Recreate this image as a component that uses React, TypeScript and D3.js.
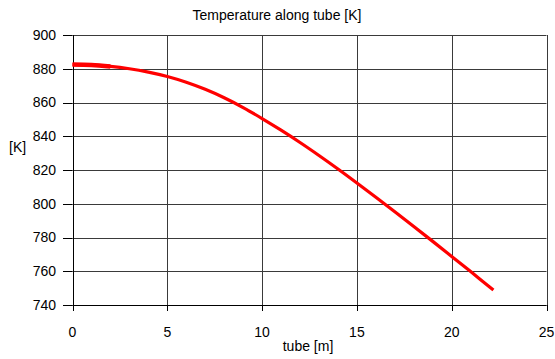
import React from 'react';
import * as d3 from 'd3';

const tubeM = [0, 1, 2, 3, 4, 5, 6, 7, 8, 9, 10, 11, 12, 13, 14, 15, 16, 17, 18, 19, 20, 21, 22, 22.2];
const tempK = [882.5, 882.2, 881.4, 880.0, 878.0, 875.4, 872.0, 867.8, 862.8, 857.0, 850.5, 843.6, 836.3, 828.6, 820.6, 812.3, 803.8, 795.2, 786.5, 777.7, 768.8, 759.8, 750.7, 748.9];
const xTicks = [0, 5, 10, 15, 20, 25];
const yTicks = [740, 760, 780, 800, 820, 840, 860, 880, 900];

const W = 555;
const H = 359;
const FONT = 'Liberation Sans, Arial, sans-serif';
const FS = 14;

function App() {
  const x = d3.scaleLinear().domain([0, 25]).range([72.5, 546.5]);
  const y = d3.scaleLinear().domain([740, 900]).range([305, 35]);
  const px = (v: number) => Math.round(v) + 0.5;

  const line = d3.line<number>()
    .x((d, i) => x(tubeM[i]))
    .y(d => y(d))
    .curve(d3.curveMonotoneX);

  // the first few metres are drawn a bit heavier in the original
  const head = tempK.slice(0, 3);

  return (
    <div style={{ position: 'absolute', left: 0, top: 0 }}>
      <svg width={W} height={H} style={{ display: 'block', background: '#fff' }}>
        <text x={277} y={20} textAnchor="middle" fontFamily={FONT} fontSize={FS} fill="#000">
          Temperature along tube [K]
        </text>

        {/* grid */}
        {yTicks.map(t => (
          <line key={'gy' + t} x1={x(0)} x2={x(25)} y1={px(y(t))} y2={px(y(t))}
            stroke="#3a3a3a" strokeWidth={1} />
        ))}
        {xTicks.map(t => (
          <line key={'gx' + t} x1={px(x(t))} x2={px(x(t))} y1={y(900)} y2={y(740)}
            stroke="#3a3a3a" strokeWidth={1} />
        ))}

        {/* y axis */}
        {yTicks.map(t => (
          <g key={'ty' + t}>
            <line x1={63} x2={x(0)} y1={px(y(t))} y2={px(y(t))} stroke="#000" />
            <text x={56} y={y(t)} dy="0.35em" textAnchor="end" fontFamily={FONT} fontSize={FS} fill="#000">
              {t}
            </text>
          </g>
        ))}

        {/* x axis */}
        {xTicks.map(t => (
          <g key={'tx' + t}>
            <line x1={px(x(t))} x2={px(x(t))} y1={y(740)} y2={y(740) + 6} stroke="#000" />
            <text x={x(t)} y={332} dy="0.35em" textAnchor="middle" fontFamily={FONT} fontSize={FS} fill="#000">
              {t}
            </text>
          </g>
        ))}

        <line x1={px(x(0))} x2={px(x(0))} y1={y(900)} y2={y(740)} stroke="#000" />
        <line x1={x(0)} x2={x(25)} y1={px(y(740))} y2={px(y(740))} stroke="#000" />

        <text x={9} y={147} dy="0.35em" fontFamily={FONT} fontSize={FS} fill="#000">[K]</text>
        <text x={308} y={346} dy="0.35em" textAnchor="middle" fontFamily={FONT} fontSize={FS} fill="#000">
          tube [m]
        </text>

        <path d={line(tempK) || ''} fill="none" stroke="#ff0000" strokeWidth={3.2} strokeLinejoin="round" />
        <path d={line(head) || ''} fill="none" stroke="#ff0000" strokeWidth={4.5} />
      </svg>
    </div>
  );
}

export default App;
